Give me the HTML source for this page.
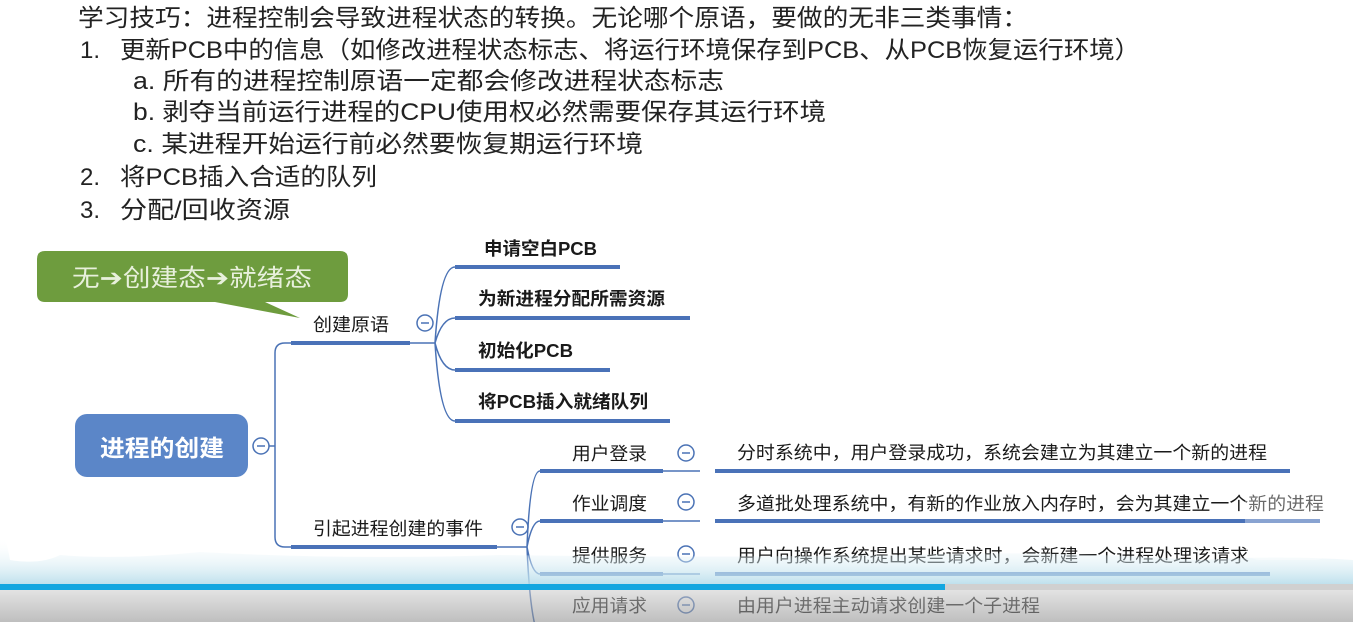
<!DOCTYPE html>
<html><head><meta charset="utf-8"><style>
html,body{margin:0;padding:0;background:#fff;}
svg{display:block;}
text{font-family:"Liberation Sans","Noto Sans CJK SC",sans-serif;}
.cjk{font-family:"Noto Sans CJK SC",sans-serif;}
</style></head><body>
<svg width="1353" height="622" viewBox="0 0 1353 622" xmlns="http://www.w3.org/2000/svg">
<defs>
<linearGradient id="g1" x1="0" y1="0" x2="0" y2="1"><stop offset="0" stop-color="#d8d8d8"/><stop offset="1" stop-color="#8a8a8a"/></linearGradient>
<linearGradient id="g2" x1="0" y1="0" x2="0" y2="1"><stop offset="0" stop-color="#ffffff" stop-opacity="0"/><stop offset="1" stop-color="#b5dcea"/></linearGradient>
</defs>
<rect width="1353" height="622" fill="#fff"/>
<g fill="#222" font-size="24">
<text x="78" y="26" textLength="950" lengthAdjust="spacingAndGlyphs">学习技巧：进程控制会导致进程状态的转换。无论哪个原语，要做的无非三类事情：</text>
<text x="80" y="58">1.</text>
<text x="120" y="58" textLength="1020" lengthAdjust="spacingAndGlyphs">更新PCB中的信息（如修改进程状态标志、将运行环境保存到PCB、从PCB恢复运行环境）</text>
<text x="133" y="89" textLength="591" lengthAdjust="spacingAndGlyphs">a. 所有的进程控制原语一定都会修改进程状态标志</text>
<text x="133" y="120" textLength="693" lengthAdjust="spacingAndGlyphs">b. 剥夺当前运行进程的CPU使用权必然需要保存其运行环境</text>
<text x="133" y="152" textLength="510" lengthAdjust="spacingAndGlyphs">c. 某进程开始运行前必然要恢复期运行环境</text>
<text x="80" y="185">2.</text>
<text x="120" y="185" textLength="257" lengthAdjust="spacingAndGlyphs">将PCB插入合适的队列</text>
<text x="80" y="218">3.</text>
<text x="120" y="218" textLength="170" lengthAdjust="spacingAndGlyphs">分配/回收资源</text>
</g>
<!-- callout -->
<path d="M45 251 H340 Q348 251 348 259 V294 Q348 302 340 302 H265 L300 318 L215 302 H45 Q37 302 37 294 V259 Q37 251 45 251Z" fill="#6e9c3e"/>
<text x="72" y="286" font-size="24" fill="#e8f0dc" class="cjk" textLength="240" lengthAdjust="spacingAndGlyphs">无➔创建态➔就绪态</text>
<!-- root -->
<rect x="75" y="414" width="173" height="63" rx="12" fill="#5b86c8"/>
<text x="100" y="456" font-size="23" font-weight="bold" fill="#fff" textLength="124" lengthAdjust="spacingAndGlyphs">进程的创建</text>
<g fill="none" stroke="#4a72b5" stroke-width="1.5">
<circle cx="261" cy="446" r="8" fill="#fff"/>
<path d="M269 446 H275"/>
<path d="M291 343 H285 Q275 343 275 353 V537 Q275 547 285 547 H291"/>
<path d="M410 343 H435"/>
<circle cx="425" cy="323" r="8" fill="#fff"/>
<path d="M435 343 Q440 267 455 267 M435 343 Q442 318 455 318 M435 343 Q442 370 455 370 M435 343 Q440 421 455 421"/>
<path d="M497 547 H527"/>
<circle cx="520" cy="527" r="8" fill="#fff"/>
<path d="M527 547 Q530 471 540 471 M527 547 Q532 521 540 521 M527 547 Q532 574 540 574 M527 547 Q530 622 540 640"/>
<path d="M663 471 H700 M663 521 H700 M663 574 H700"/>
<circle cx="686" cy="453" r="8" fill="#fff"/>
<circle cx="686" cy="502" r="8" fill="#fff"/>
<circle cx="686" cy="554" r="8" fill="#fff"/>
<circle cx="686" cy="605" r="8" fill="#fff"/>
</g>
<g stroke="#4a72b5" stroke-width="1.5">
<path d="M257 446 H265 M421 323 H429 M516 527 H524 M682 453 H690 M682 502 H690 M682 554 H690 M682 605 H690"/>
</g>
<g stroke="#4a72b8" stroke-width="4">
<path d="M291 343 H410 M291 547 H497 M455 267 H620 M455 318 H690 M455 370 H610 M455 421 H670 M540 471 H663 M540 521 H663 M540 574 H663 M715 471 H1290 M715 521 H1320 M715 574 H1270"/>
</g>
<g fill="#1a1a1a" font-size="18">
<text x="313" y="331" textLength="76" lengthAdjust="spacingAndGlyphs">创建原语</text>
<text x="313" y="535" textLength="170" lengthAdjust="spacingAndGlyphs">引起进程创建的事件</text>
<text x="484" y="255" font-weight="bold" textLength="113" lengthAdjust="spacingAndGlyphs">申请空白PCB</text>
<text x="478" y="305" font-weight="bold" textLength="187" lengthAdjust="spacingAndGlyphs">为新进程分配所需资源</text>
<text x="478" y="357" font-weight="bold" textLength="95" lengthAdjust="spacingAndGlyphs">初始化PCB</text>
<text x="478" y="408" font-weight="bold" textLength="170" lengthAdjust="spacingAndGlyphs">将PCB插入就绪队列</text>
<text x="572" y="460" textLength="75" lengthAdjust="spacingAndGlyphs">用户登录</text>
<text x="572" y="510" textLength="75" lengthAdjust="spacingAndGlyphs">作业调度</text>
<text x="572" y="562" textLength="75" lengthAdjust="spacingAndGlyphs">提供服务</text>
<text x="572" y="612" textLength="75" lengthAdjust="spacingAndGlyphs">应用请求</text>
<text x="737" y="459" textLength="530" lengthAdjust="spacingAndGlyphs">分时系统中，用户登录成功，系统会建立为其建立一个新的进程</text>
<text x="737" y="510" textLength="587" lengthAdjust="spacingAndGlyphs">多道批处理系统中，有新的作业放入内存时，会为其建立一个新的进程</text>
<text x="737" y="562" textLength="512" lengthAdjust="spacingAndGlyphs">用户向操作系统提出某些请求时，会新建一个进程处理该请求</text>
<text x="737" y="612" textLength="303" lengthAdjust="spacingAndGlyphs">由用户进程主动请求创建一个子进程</text>
</g>
<!-- bottom overlay -->
<path d="M0 540 Q5 530 10 560 Q40 565 60 555 Q120 560 200 552 Q350 560 500 555 Q700 558 900 555 Q1050 550 1200 560 Q1280 555 1353 560 V585 H0Z" fill="url(#g2)" opacity="0.9"/>
<rect x="0" y="584" width="1353" height="38" fill="url(#g1)" opacity="0.55"/>
<rect x="0" y="584" width="945" height="6" fill="#13a6e0"/>
<rect x="945" y="584" width="408" height="6" fill="#d0d0d0"/>
<rect x="1245" y="480" width="85" height="80" rx="14" fill="#ffffff" opacity="0.35"/>
</svg>
</body></html>
